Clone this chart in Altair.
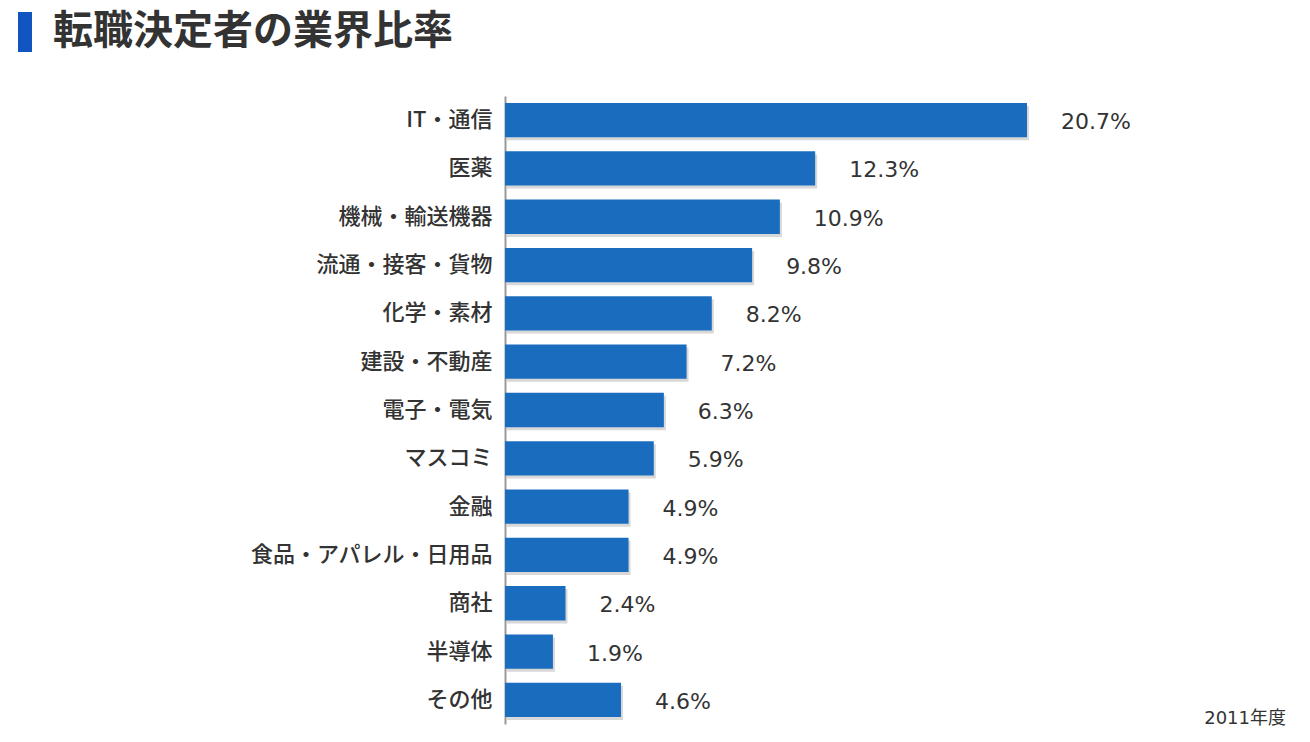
import altair as alt
import pandas as pd

categories = ["IT・通信", "医薬", "機械・輸送機器", "流通・接客・貨物", "化学・素材", "建設・不動産",
              "電子・電気", "マスコミ", "金融", "食品・アパレル・日用品", "商社", "半導体", "その他"]
values = [20.7, 12.3, 10.9, 9.8, 8.2, 7.2, 6.3, 5.9, 4.9, 4.9, 2.4, 1.9, 4.6]
labels = ["20.7%", "12.3%", "10.9%", "9.8%", "8.2%", "7.2%", "6.3%", "5.9%", "4.9%", "4.9%", "2.4%", "1.9%", "4.6%"]
title_text = "転職決定者の業界比率"
note_text = "2011年度"

df = pd.DataFrame({"category": categories, "value": values, "label": labels})

FONT = "Noto Sans CJK JP"
W, H = 785, 628
xscale = alt.Scale(domain=[0, 31.13], nice=False, zero=True)
yscale = alt.Scale(domain=categories, paddingInner=0.29, paddingOuter=0.145)

X = alt.X("value:Q", scale=xscale, axis=None)
Y = alt.Y("category:N", scale=yscale, sort=categories,
          axis=alt.Axis(title=None, ticks=False, domain=True, domainColor="#999999",
                        domainWidth=2, labelFont=FONT, labelFontSize=22, labelFontWeight=500,
                        labelColor="#333333", labelPadding=13, labelLimit=400, grid=False))

base = alt.Chart(df)

shadow = base.mark_bar(color="#c8c8c8", opacity=0.7, xOffset=2, yOffset=3).encode(x=X, y=Y)

bars = base.mark_bar(color="#1a6cbf").encode(x=X, y=Y)

text = base.mark_text(font="DejaVu Sans", fontSize=22, color="#333333", align="left",
                      baseline="middle", dx=34, dy=2).encode(x=X, y=Y, text="label:N")

one = pd.DataFrame({"t": [title_text]})
title_mark = alt.Chart(one).mark_text(font=FONT, fontSize=40, fontWeight="bold", color="#333333",
                                      align="left", baseline="middle").encode(
    x=alt.value(-452), y=alt.value(-64), text="t:N")

blue = alt.Chart(one).mark_rect(color="#1155c0").encode(
    x=alt.value(-487), x2=alt.value(-473), y=alt.value(-84), y2=alt.value(-44))

note = alt.Chart(pd.DataFrame({"t": [note_text]})).mark_text(
    font="DejaVu Sans, Noto Sans CJK JP", fontSize=18, color="#333333", align="right",
    baseline="middle").encode(
    x=alt.value(781), y=alt.value(623), text="t:N")

chart = alt.layer(shadow, bars, text, title_mark, blue, note).properties(
    width=W, height=H, autosize="none", background="white",
    padding={"left": 497, "top": 88, "right": 10, "bottom": 10},
).configure_view(strokeWidth=0)

chart.save("out.html", embed_options={"renderer": "svg", "actions": False})
